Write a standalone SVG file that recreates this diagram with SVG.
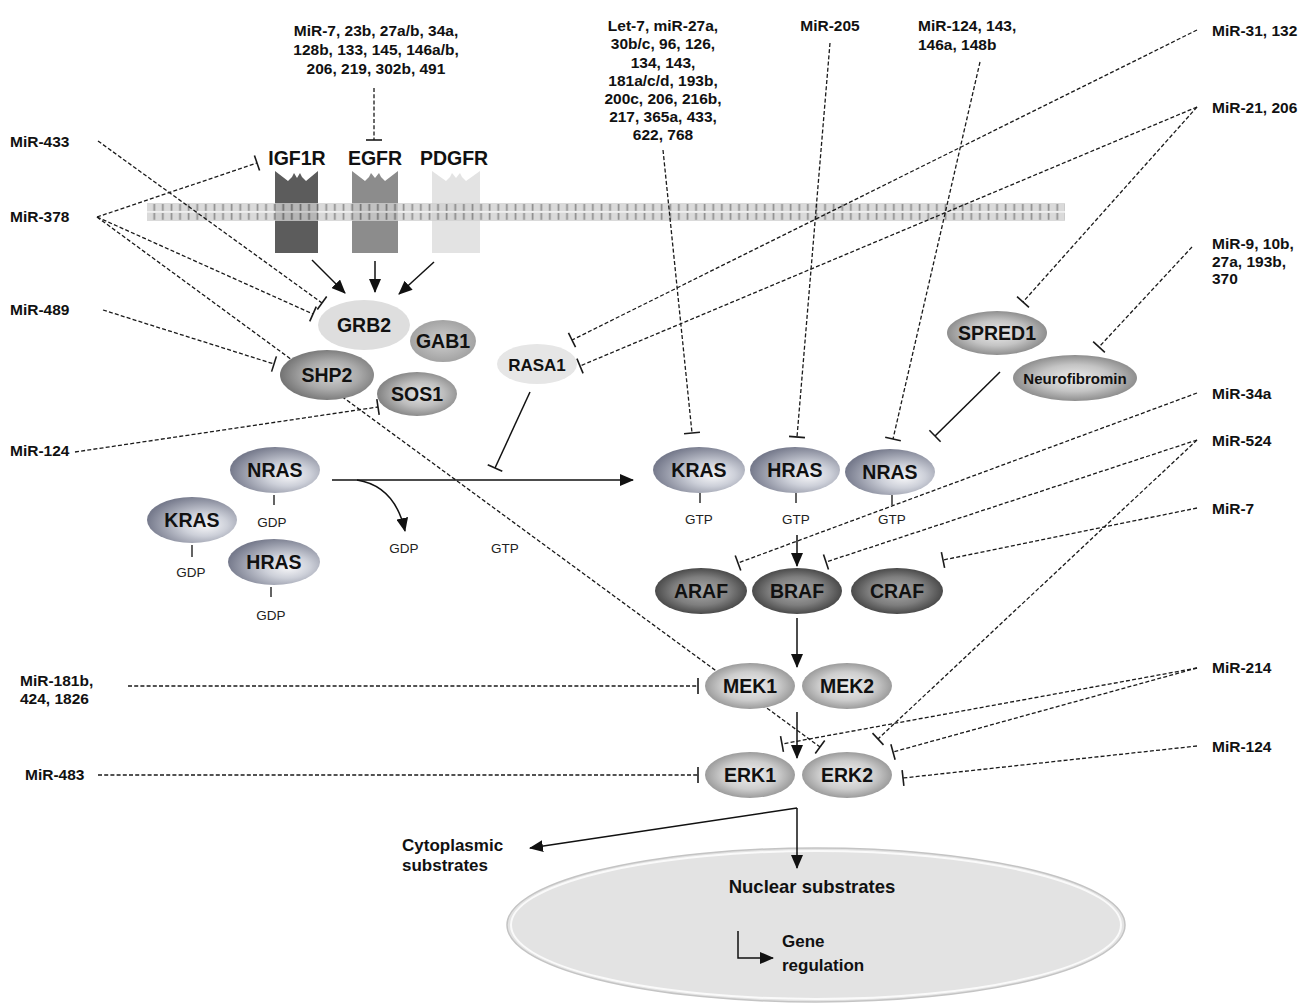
<svg xmlns="http://www.w3.org/2000/svg" width="1310" height="1004" viewBox="0 0 1310 1004">
<style>
.mir{font-family:"Liberation Sans",Arial,sans-serif;font-weight:bold;font-size:15.5px;fill:#111}
.nl{font-family:"Liberation Sans",Arial,sans-serif;font-weight:bold;font-size:19.5px;fill:#111;text-anchor:middle}
.sm{font-family:"Liberation Sans",Arial,sans-serif;font-size:13.5px;fill:#222;text-anchor:middle}
.big{font-family:"Liberation Sans",Arial,sans-serif;font-weight:bold;font-size:17px;fill:#111}
.c{text-anchor:middle}
.d{fill:none;stroke:#1a1a1a;stroke-width:1.3;stroke-dasharray:4 2.2;marker-end:url(#tb)}
.s{fill:none;stroke:#111;stroke-width:1.5}
.sa{fill:none;stroke:#111;stroke-width:1.5;marker-end:url(#ar)}
.st{fill:none;stroke:#111;stroke-width:1.5;marker-end:url(#tb)}
.tk{stroke:#222;stroke-width:1.4}
</style>
<defs>
<marker id="tb" markerUnits="userSpaceOnUse" markerWidth="20" markerHeight="20" refX="10" refY="10" orient="auto" viewBox="0 0 20 20"><path d="M10,2 L10,18" stroke="#1a1a1a" stroke-width="1.6" fill="none"/></marker>
<marker id="ar" markerUnits="userSpaceOnUse" markerWidth="14" markerHeight="12" refX="13" refY="6" orient="auto" viewBox="0 0 14 12"><path d="M0,0 L14,6 L0,12 Z" fill="#111"/></marker>
<pattern id="mem" patternUnits="userSpaceOnUse" x="147" y="203" width="8.6" height="18">
<rect x="0" y="0" width="8.6" height="18" fill="#d0d0d0"/>
<rect x="6.4" y="1" width="1.7" height="6.8" fill="#6f6f6f"/>
<rect x="6.4" y="10" width="1.7" height="6.8" fill="#6f6f6f"/>
<rect x="0" y="8.2" width="8.6" height="1.4" fill="#f2f2f2"/>
</pattern>
<radialGradient id="gras" cx="0.62" cy="0.58" r="0.62" fx="0.66" fy="0.62"><stop offset="0" stop-color="#f7f7f9"/><stop offset="0.4" stop-color="#cdd0d9"/><stop offset="1" stop-color="#767a8c"/></radialGradient>
<radialGradient id="graf" cx="0.5" cy="0.5" r="0.56"><stop offset="0" stop-color="#ababab"/><stop offset="0.55" stop-color="#7e7e7e"/><stop offset="1" stop-color="#3a3a3a"/></radialGradient>
<radialGradient id="gmek" cx="0.5" cy="0.5" r="0.56"><stop offset="0" stop-color="#f0f0f0"/><stop offset="0.55" stop-color="#cdcdcd"/><stop offset="1" stop-color="#8c8c8c"/></radialGradient>
<radialGradient id="gshp" cx="0.55" cy="0.5" r="0.58"><stop offset="0" stop-color="#d4d4d4"/><stop offset="0.5" stop-color="#aaaaaa"/><stop offset="1" stop-color="#6c6c6c"/></radialGradient>
<radialGradient id="gsos" cx="0.55" cy="0.5" r="0.58"><stop offset="0" stop-color="#e6e6e6"/><stop offset="0.5" stop-color="#bdbdbd"/><stop offset="1" stop-color="#7a7a7a"/></radialGradient>
<radialGradient id="ggab" cx="0.5" cy="0.5" r="0.58"><stop offset="0" stop-color="#cfcfcf"/><stop offset="1" stop-color="#9c9c9c"/></radialGradient>
<radialGradient id="gspr" cx="0.5" cy="0.5" r="0.58"><stop offset="0" stop-color="#ececec"/><stop offset="0.5" stop-color="#c4c4c4"/><stop offset="1" stop-color="#7a7a7a"/></radialGradient>
</defs>
<rect width="1310" height="1004" fill="#fff"/>

<g id="nucleus">
<ellipse cx="816" cy="925" rx="309" ry="77" fill="#e3e3e3" stroke="#c4c4c4" stroke-width="1.5"/>
<ellipse cx="816" cy="925" rx="305" ry="74" fill="none" stroke="#fafafa" stroke-width="2"/>
<text class="big c" x="812" y="893" style="font-size:18.5px">Nuclear substrates</text>
<path class="sa" d="M738,931 L738,958 L773,958"/>
<text class="big" x="782" y="947">Gene</text>
<text class="big" x="782" y="971">regulation</text>
</g>

<g id="receptor-IGF1R">
<path d="M275,171 L288,181 L292,177 L294,173 L297,178 L300,173 L302,177 L306,181 L318,171 L318,253 L275,253 Z" fill="#5c5c5c"/>
<text class="nl" x="297" y="165">IGF1R</text>
</g>
<g id="receptor-EGFR">
<path d="M352,171 L365,181 L369,177 L371,173 L375,178 L379,173 L381,177 L385,181 L398,171 L398,253 L352,253 Z" fill="#8c8c8c"/>
<text class="nl" x="375" y="165">EGFR</text>
</g>
<g id="receptor-PDGFR">
<path d="M432,171 L446,181 L450,177 L452,173 L456,178 L460,173 L462,177 L466,181 L480,171 L480,253 L432,253 Z" fill="#e3e3e3"/>
<text class="nl" x="454" y="165">PDGFR</text>
</g>
<g id="membrane">
<rect x="147" y="203" width="918" height="18" fill="url(#mem)" opacity="0.78"/>
</g>

<g id="connectors">
<path class="sa" d="M312,260 L345,293"/>
<path class="sa" d="M375,261 L375,292"/>
<path class="sa" d="M434,262 L399,294"/>
<path class="d" d="M374,88 L374,140"/>
<path class="d" d="M98,141 L322,303"/>
<path class="d" d="M97,217 L257,163"/>
<path class="d" d="M97,217 L313,314"/>
<path class="d" d="M97,217 L820,747"/>
<path class="d" d="M103,310 L274,364"/>
<path class="d" d="M75,452 L378,407"/>
<path class="d" d="M128,686 L698,686"/>
<path class="d" d="M98,775 L698,775"/>
<path class="d" d="M663,150 L692,433"/>
<path class="d" d="M830,43 L797,437"/>
<path class="d" d="M980,62 L893,439"/>
<path class="d" d="M1197,30 L572,340"/>
<path class="d" d="M1197,107 L580,366"/>
<path class="d" d="M1197,107 L1023,302"/>
<path class="d" d="M1192,247 L1099,347"/>
<path class="d" d="M1197,393 L738,563"/>
<path class="d" d="M1197,440 L826,562"/>
<path class="d" d="M1197,440 L878,739"/>
<path class="d" d="M1197,508 L943,560"/>
<path class="d" d="M1197,668 L782,744"/>
<path class="d" d="M1197,668 L893,752"/>
<path class="d" d="M1197,746 L903,778"/>
<path class="sa" d="M332,480 L633,480"/>
<path class="sa" d="M357,480 Q395,486 405,531"/>
<path class="st" d="M530,392 L495,468"/>
<path class="st" d="M1000,372 L935,436"/>
<path class="sa" d="M797,535 L797,566"/>
<path class="sa" d="M797,618 L797,667"/>
<path class="sa" d="M797,712 L797,758"/>
<path class="sa" d="M797,808 L530,848"/>
<path class="sa" d="M797,808 L797,868"/>
<path class="tk" d="M274,495 L274,505 M192,545 L192,557 M271,587 L271,597 M700,493 L700,503 M796,493 L796,503 M892,495 L892,505"/>
</g>

<g id="GRB2"><ellipse cx="364" cy="325" rx="46" ry="25" fill="#dedede"/><text class="nl" x="364" y="332">GRB2</text></g>
<g id="GAB1"><ellipse cx="443" cy="341" rx="33" ry="21" fill="url(#ggab)"/><text class="nl" x="443" y="348">GAB1</text></g>
<g id="SHP2"><ellipse cx="327" cy="375" rx="47" ry="25" fill="url(#gshp)"/><text class="nl" x="327" y="382">SHP2</text></g>
<g id="SOS1"><ellipse cx="417" cy="394" rx="40" ry="22" fill="url(#gsos)"/><text class="nl" x="417" y="401">SOS1</text></g>
<g id="RASA1"><ellipse cx="537" cy="364" rx="40" ry="20" fill="#e6e6e6"/><text class="nl" x="537" y="371" style="font-size:17px">RASA1</text></g>
<g id="SPRED1"><ellipse cx="997" cy="333" rx="50" ry="22" fill="url(#gspr)"/><text class="nl" x="997" y="340">SPRED1</text></g>
<g id="Neurofibromin"><ellipse cx="1075" cy="378" rx="62" ry="23" fill="url(#gspr)"/><text class="nl" x="1075" y="384" style="font-size:15px">Neurofibromin</text></g>

<g id="NRAS-GDP"><ellipse cx="275" cy="470" rx="45" ry="23" fill="url(#gras)"/><text class="nl" x="275" y="477">NRAS</text><text class="sm" x="272" y="527">GDP</text></g>
<g id="KRAS-GDP"><ellipse cx="192" cy="520" rx="45" ry="23" fill="url(#gras)"/><text class="nl" x="192" y="527">KRAS</text><text class="sm" x="191" y="577">GDP</text></g>
<g id="HRAS-GDP"><ellipse cx="274" cy="562" rx="46" ry="23" fill="url(#gras)"/><text class="nl" x="274" y="569">HRAS</text><text class="sm" x="271" y="620">GDP</text></g>
<g id="GDP-released"><text class="sm" x="404" y="553">GDP</text></g>
<g id="GTP-bound"><text class="sm" x="505" y="553">GTP</text></g>

<g id="KRAS-GTP"><ellipse cx="699" cy="470" rx="46" ry="23" fill="url(#gras)"/><text class="nl" x="699" y="477">KRAS</text><text class="sm" x="699" y="524">GTP</text></g>
<g id="HRAS-GTP"><ellipse cx="795" cy="470" rx="45" ry="23" fill="url(#gras)"/><text class="nl" x="795" y="477">HRAS</text><text class="sm" x="796" y="524">GTP</text></g>
<g id="NRAS-GTP"><ellipse cx="890" cy="472" rx="45" ry="23" fill="url(#gras)"/><text class="nl" x="890" y="479">NRAS</text><text class="sm" x="892" y="524">GTP</text></g>

<g id="ARAF"><ellipse cx="701" cy="591" rx="46" ry="23" fill="url(#graf)"/><text class="nl" x="701" y="598">ARAF</text></g>
<g id="BRAF"><ellipse cx="797" cy="591" rx="45" ry="23" fill="url(#graf)"/><text class="nl" x="797" y="598">BRAF</text></g>
<g id="CRAF"><ellipse cx="897" cy="591" rx="46" ry="23" fill="url(#graf)"/><text class="nl" x="897" y="598">CRAF</text></g>
<g id="MEK1"><ellipse cx="750" cy="686" rx="45" ry="23" fill="url(#gmek)"/><text class="nl" x="750" y="693">MEK1</text></g>
<g id="MEK2"><ellipse cx="847" cy="686" rx="45" ry="23" fill="url(#gmek)"/><text class="nl" x="847" y="693">MEK2</text></g>
<g id="ERK1"><ellipse cx="750" cy="775" rx="45" ry="23" fill="url(#gmek)"/><text class="nl" x="750" y="782">ERK1</text></g>
<g id="ERK2"><ellipse cx="847" cy="775" rx="45" ry="23" fill="url(#gmek)"/><text class="nl" x="847" y="782">ERK2</text></g>

<g id="cytoplasmic"><text class="big" x="402" y="851">Cytoplasmic</text><text class="big" x="402" y="871">substrates</text></g>

<g id="mir-labels">
<text class="mir c" x="376" y="36">MiR-7, 23b, 27a/b, 34a,</text>
<text class="mir c" x="376" y="55">128b, 133, 145, 146a/b,</text>
<text class="mir c" x="376" y="74">206, 219, 302b, 491</text>
<text class="mir c" x="663" y="31">Let-7, miR-27a,</text>
<text class="mir c" x="663" y="49">30b/c, 96, 126,</text>
<text class="mir c" x="663" y="67.5">134, 143,</text>
<text class="mir c" x="663" y="85.5">181a/c/d, 193b,</text>
<text class="mir c" x="663" y="104">200c, 206, 216b,</text>
<text class="mir c" x="663" y="122">217, 365a, 433,</text>
<text class="mir c" x="663" y="140">622, 768</text>
<text class="mir c" x="830" y="31">MiR-205</text>
<text class="mir" x="918" y="31">MiR-124, 143,</text>
<text class="mir" x="918" y="50">146a, 148b</text>
<text class="mir" x="10" y="147">MiR-433</text>
<text class="mir" x="10" y="222">MiR-378</text>
<text class="mir" x="10" y="315">MiR-489</text>
<text class="mir" x="10" y="456">MiR-124</text>
<text class="mir" x="20" y="686">MiR-181b,</text>
<text class="mir" x="20" y="704">424, 1826</text>
<text class="mir" x="25" y="780">MiR-483</text>
<text class="mir" x="1212" y="36">MiR-31, 132</text>
<text class="mir" x="1212" y="113">MiR-21, 206</text>
<text class="mir" x="1212" y="249">MiR-9, 10b,</text>
<text class="mir" x="1212" y="267">27a, 193b,</text>
<text class="mir" x="1212" y="284">370</text>
<text class="mir" x="1212" y="399">MiR-34a</text>
<text class="mir" x="1212" y="446">MiR-524</text>
<text class="mir" x="1212" y="514">MiR-7</text>
<text class="mir" x="1212" y="673">MiR-214</text>
<text class="mir" x="1212" y="752">MiR-124</text>
</g>
</svg>
